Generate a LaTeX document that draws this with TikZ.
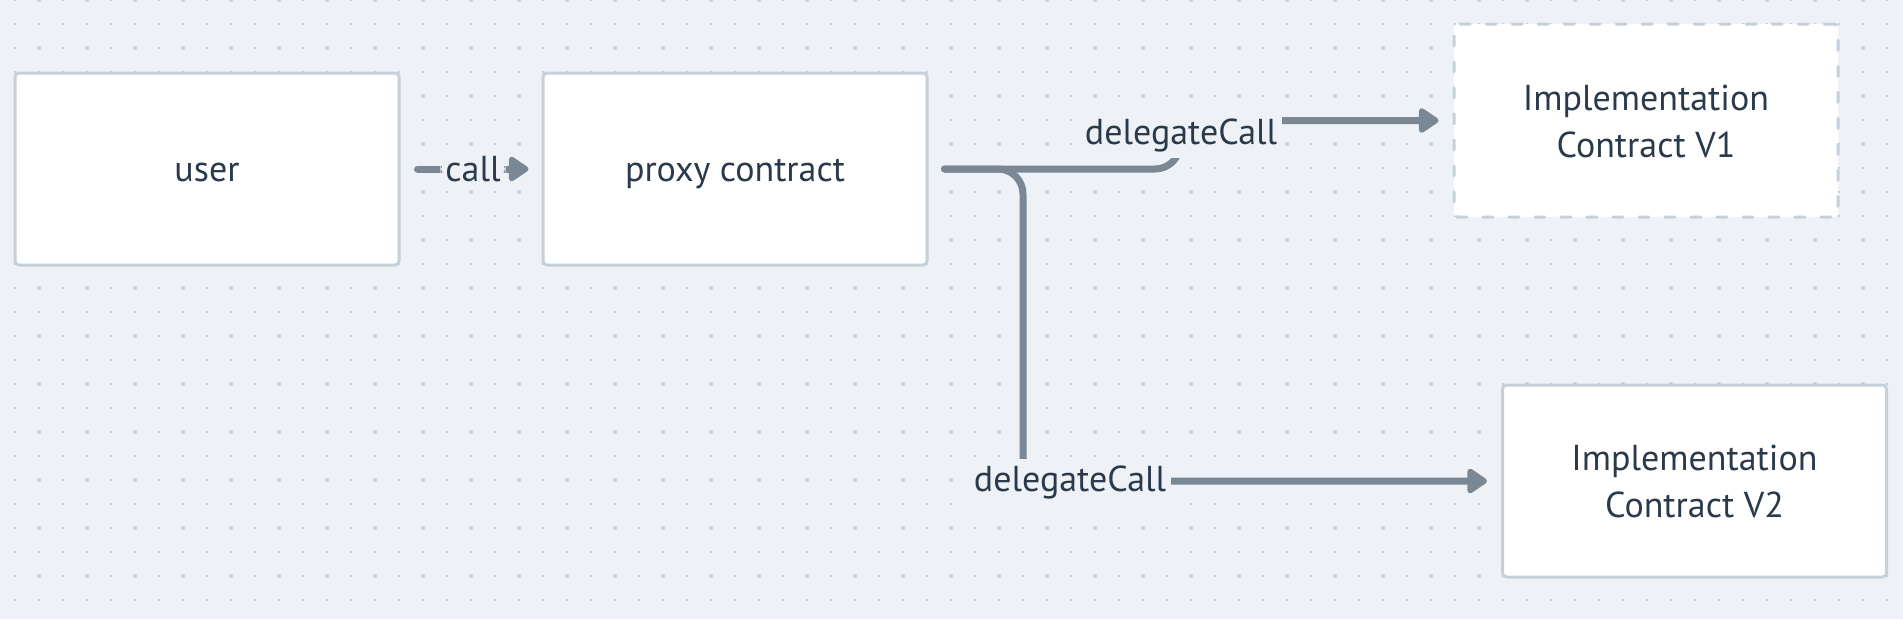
\documentclass[tikz,border=0pt]{standalone}
\usepackage{fontspec}
\setmainfont{PT Sans}
\usetikzlibrary{arrows.meta}
\definecolor{bgc}{HTML}{EEF2F6}
\definecolor{dotsmall}{HTML}{B9C3CD}
\definecolor{dotbig}{HTML}{CAD3DC}
\definecolor{boxborder}{HTML}{C5D0DA}
\definecolor{linec}{HTML}{7A8896}
\definecolor{txt}{HTML}{2A3A4B}
\begin{document}
\begin{tikzpicture}[x=1pt,y=-1pt,
  box/.style={draw=boxborder, fill=white, line width=3pt, rounded corners=4pt,
    minimum width=384pt, minimum height=192pt, inner sep=0pt, text=txt,
    font=\fontsize{36}{47}\selectfont, align=center},
  oneline/.style={text height=28pt, text depth=4pt},
  dashedbox/.style={box, dash pattern=on 10pt off 16pt, line cap=round},
  connector/.style={draw=linec, line width=7pt, line cap=round, rounded corners=25pt},
  arr/.style={connector, -{Triangle[length=22pt,width=28pt,round]}},
  lbl/.style={fill=bgc, text=txt, font=\fontsize{36}{47}\selectfont, inner xsep=5pt, inner ysep=6pt}
]
\useasboundingbox (0,0) rectangle (1903,619);
\fill[bgc] (0,0) rectangle (1903,619);
% dot grid
\foreach \i in {0,...,78}{
  \foreach \j in {0,...,25}{
    \fill[dotsmall] (15+24*\i,24*\j) circle (1.1pt);
  }
}
\foreach \i in {1,3,...,77}{
  \foreach \j in {0,2,...,24}{
    \fill[dotbig] (15+24*\i,24*\j) circle (2.1pt);
  }
}
% boxes
\node[box, oneline] (user) at (207,169) {user};
\node[box, oneline] (proxy) at (735,169) {proxy contract};
\node[dashedbox, minimum height=193pt, text height=75pt] (v1) at (1646,120.5) {Implementation\\Contract V1};
\node[box, text height=74pt] (v2) at (1694.5,481) {Implementation\\Contract V2};
% routing coordinates
\coordinate (tx) at (1180,0);
\coordinate (bx) at (1023,0);
% connectors
\draw[arr] ([xshift=17pt]user.east) -- node[lbl] (lcall) {call} ([xshift=-13pt]proxy.west);
\draw[arr] ([xshift=16pt]proxy.east) -- (proxy.east -| tx) |- ([xshift=-14pt]v1.west);
\draw[arr] ([xshift=16pt]proxy.east) -- (proxy.east -| bx) |- ([xshift=-14pt]v2.west);
\node[lbl] (l1) at (1181,135) {delegateCall};
\node[lbl] (l2) at (1070,482) {delegateCall};
\end{tikzpicture}
\end{document}
